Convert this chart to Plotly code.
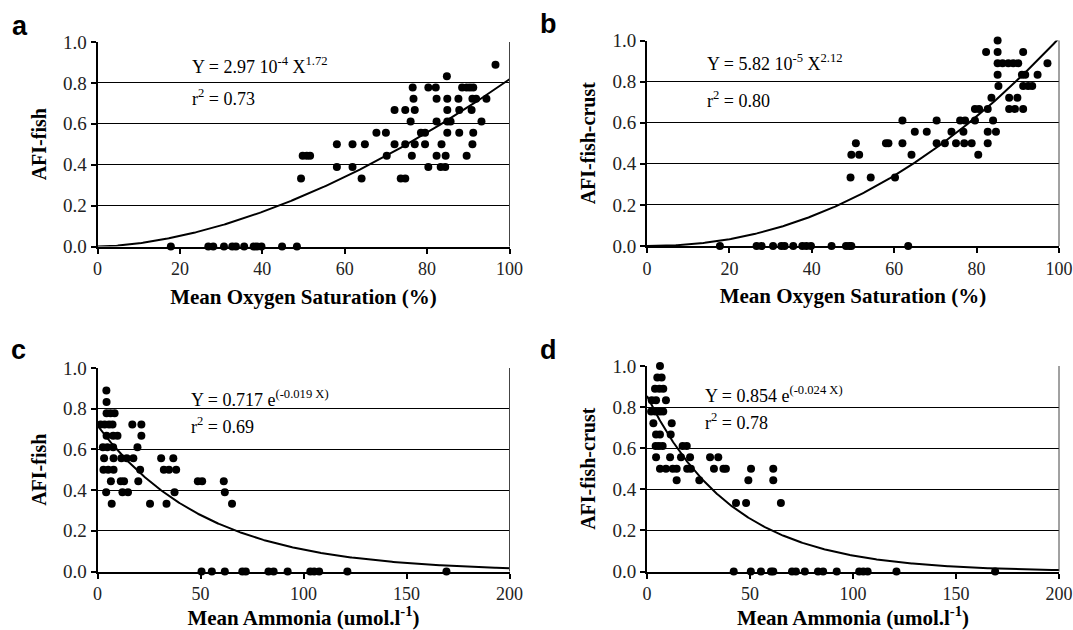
import numpy as np
import plotly.graph_objects as go

# ---------------- data ----------------
# Panel a: AFI-fish vs Mean Oxygen Saturation (%)
a_x = [17.8, 26.9, 28.1, 30.7, 32.7, 33.6, 35.6, 37.9, 38.7, 39.8, 44.8, 48.4,
       49.4, 49.8, 50.8, 51.6, 58.1, 58.1, 61.9, 61.9, 64.1, 64.9, 67.7, 70.0,
       70.2, 72.1, 72.1, 73.6, 74.7, 74.7, 74.7, 76.3, 76.0, 76.5, 76.7, 77.0,
       77.0, 78.5, 79.5, 79.5, 80.3, 80.3, 82.1, 82.3, 82.3, 82.3, 83.5, 83.3,
       84.4, 84.5, 84.8, 84.9, 84.9, 84.9, 85.7, 84.9, 87.6, 87.8, 87.8, 88.5,
       89.6, 90.4, 91.2, 90.8, 91.0, 91.9, 91.2, 91.0, 89.6, 93.2, 94.4, 96.6]
a_y = [0, 0, 0, 0, 0, 0, 0, 0, 0, 0, 0, 0,
       0.333, 0.444, 0.444, 0.444, 0.389, 0.5, 0.389, 0.5, 0.333, 0.5, 0.556, 0.556,
       0.444, 0.5, 0.667, 0.333, 0.333, 0.5, 0.667, 0.444, 0.611, 0.778, 0.722, 0.667,
       0.5, 0.556, 0.556, 0.5, 0.389, 0.778, 0.778, 0.722, 0.611, 0.444, 0.5, 0.389,
       0.389, 0.444, 0.833, 0.722, 0.667, 0.611, 0.611, 0.556, 0.722, 0.667, 0.556, 0.778,
       0.778, 0.778, 0.778, 0.667, 0.722, 0.722, 0.556, 0.5, 0.444, 0.611, 0.722, 0.889]

# Panel b: AFI-fish-crust vs Mean Oxygen Saturation (%)
b_x = [17.7, 26.6, 27.8, 30.6, 32.6, 33.4, 35.5, 37.7, 38.7, 39.8, 44.8, 48.3, 49.1, 49.6, 63.4,
       49.4, 49.6, 51.5, 50.7, 54.3, 58.0, 58.6, 60.2, 62.0, 62.0, 64.2, 65.0, 67.9,
       70.3, 70.3, 72.3, 73.9, 75.0, 76.0, 77.2, 76.8, 77.0, 78.8, 79.6, 79.6, 80.6,
       80.4, 82.3, 82.7, 82.7, 82.7, 83.6, 84.0, 84.7, 85.1, 85.1, 85.1, 85.1, 85.3,
       86.3, 87.7, 88.9, 90.1, 87.9, 89.9, 87.9, 89.3, 91.3, 91.3, 91.0, 91.8, 94.8,
       91.3, 92.5, 93.5, 97.2]
b_y = [0, 0, 0, 0, 0, 0, 0, 0, 0, 0, 0, 0, 0, 0, 0,
       0.333, 0.444, 0.444, 0.5, 0.333, 0.5, 0.5, 0.333, 0.611, 0.5, 0.444, 0.556, 0.556,
       0.611, 0.5, 0.5, 0.556, 0.5, 0.611, 0.611, 0.556, 0.5, 0.5, 0.611, 0.667, 0.667,
       0.444, 0.944, 0.5, 0.556, 0.667, 0.722, 0.611, 0.556, 1.0, 0.944, 0.889, 0.833, 0.778,
       0.889, 0.889, 0.889, 0.889, 0.722, 0.722, 0.667, 0.667, 0.667, 0.944, 0.833, 0.833, 0.833,
       0.778, 0.778, 0.778, 0.889]

# Panel c: AFI-fish vs Mean Ammonia (umol.l-1)
c_x = [50.5, 55.5, 61.8, 70.3, 72.0, 83.0, 85.5, 92.3, 103.3, 105.2, 107.6, 121.3, 169.4,
       4.3, 4.4, 4.4, 6.3, 8.3, 1.5, 3.5, 5.6, 7.3, 16.9, 21.3,
       4.4, 7.6, 9.7, 21.3, 2.6, 4.8, 7.6, 19.4,
       3.2, 7.8, 11.6, 14.2, 17.4, 30.9, 36.8,
       2.9, 5.2, 7.8, 20.7, 32.2, 34.7, 38.2,
       6.5, 11.3, 12.9, 19.8, 48.7, 50.8, 61.3,
       4.2, 12.1, 14.8, 37.4, 61.8,
       6.9, 25.5, 33.5, 65.3]
c_y = [0, 0, 0, 0, 0, 0, 0, 0, 0, 0, 0, 0, 0,
       0.889, 0.833, 0.778, 0.778, 0.778, 0.722, 0.722, 0.722, 0.722, 0.722, 0.722,
       0.667, 0.667, 0.667, 0.667, 0.611, 0.611, 0.611, 0.611,
       0.556, 0.556, 0.556, 0.556, 0.556, 0.556, 0.556,
       0.5, 0.5, 0.5, 0.5, 0.5, 0.5, 0.5,
       0.444, 0.444, 0.444, 0.444, 0.444, 0.444, 0.444,
       0.389, 0.389, 0.389, 0.389, 0.389,
       0.333, 0.333, 0.333, 0.333]

# Panel d: AFI-fish-crust vs Mean Ammonia (umol.l-1)
d_x = [42.1, 50.4, 55.3, 60.2, 61.3, 70.4, 72.3, 76.6, 83.0, 85.5, 92.1, 103.0, 105.0, 107.1, 121.1, 169.0,
       6.3, 5.0, 7.1, 3.9, 6.0, 7.9, 2.3, 4.4, 9.2,
       2.0, 4.0, 6.3, 7.9, 3.1, 12.0, 4.4, 6.3, 11.5,
       4.2, 5.8, 7.6, 17.3, 19.3,
       4.4, 11.2, 16.5, 20.9, 30.6, 34.6,
       6.3, 9.2, 12.5, 14.4, 19.5, 21.3, 32.5, 37.1, 38.3, 50.5, 61.3,
       14.4, 25.4, 49.2, 61.3,
       43.2, 48.1, 65.0]
d_y = [0, 0, 0, 0, 0, 0, 0, 0, 0, 0, 0, 0, 0, 0, 0, 0,
       1.0, 0.944, 0.944, 0.889, 0.889, 0.889, 0.833, 0.833, 0.833,
       0.778, 0.778, 0.778, 0.778, 0.722, 0.722, 0.667, 0.667, 0.667,
       0.611, 0.611, 0.611, 0.611, 0.611,
       0.556, 0.556, 0.556, 0.556, 0.556, 0.556,
       0.5, 0.5, 0.5, 0.5, 0.5, 0.5, 0.5, 0.5, 0.5, 0.5, 0.5,
       0.444, 0.444, 0.444, 0.444,
       0.333, 0.333, 0.333]

# fitted models shown on the chart
a_fit = (2.97e-4, 1.72)      # Y = a X^b
b_fit = (5.82e-5, 2.12)
c_fit = (0.717, -0.019)      # Y = a e^(b X)
d_fit = (0.854, -0.024)

panel_letters = ["a", "b", "c", "d"]
eq_texts = ["Y = 2.97 10<sup>-4</sup> X<sup>1.72</sup>",
            "Y = 5.82 10<sup>-5</sup> X<sup>2.12</sup>",
            "Y = 0.717 e<sup>(-0.019 X)</sup>",
            "Y = 0.854 e<sup>(-0.024 X)</sup>"]
r2_texts = ["r<sup>2</sup> = 0.73", "r<sup>2</sup> = 0.80",
            "r<sup>2</sup> = 0.69", "r<sup>2</sup> = 0.78"]
x_titles = ["Mean Oxygen Saturation (%)", "Mean Oxygen Saturation (%)",
            "Mean Ammonia (umol.l<sup>-1</sup>)", "Mean Ammonia (umol.l<sup>-1</sup>)"]
y_titles = ["AFI-fish", "AFI-fish-crust", "AFI-fish", "AFI-fish-crust"]

# ---------------- figure ----------------
W, H = 1073, 630
SERIF = "Times New Roman, Liberation Serif, DejaVu Serif, serif"
SANS = "Arial, Liberation Sans, DejaVu Sans, sans-serif"

fig = go.Figure()

xs_o = np.linspace(0, 100, 301)
xs_a = np.linspace(0, 200, 401)
curves = [
    (xs_o, a_fit[0] * xs_o ** a_fit[1]),
    (xs_o, b_fit[0] * xs_o ** b_fit[1]),
    (xs_a, c_fit[0] * np.exp(c_fit[1] * xs_a)),
    (xs_a, d_fit[0] * np.exp(d_fit[1] * xs_a)),
]
points = [(a_x, a_y), (b_x, b_y), (c_x, c_y), (d_x, d_y)]

# pixel layout of the plot areas
x_dom_px = [(97.5, 509.5), (647, 1059), (97.5, 509.5), (647, 1059)]
y_dom_px = [(42, 246.5), (40.5, 246), (368, 571.5), (366, 571.5)]
x_ranges = [[0, 100], [0, 100], [0, 200], [0, 200]]
x_dticks = [20, 20, 50, 50]
eq_pos = [(22.4, 0.885, 0.73), (14.1, 0.895, 0.715), (44.6, 0.848, 0.716), (27.3, 0.862, 0.73)]
letter_pos = [(20, 26), (548, 24), (18, 350), (548, 350)]

layout = {}
annotations = []
shapes = []
for i in range(4):
    n = "" if i == 0 else str(i + 1)
    xa, ya = "x" + n, "y" + n
    fig.add_trace(go.Scatter(x=curves[i][0], y=curves[i][1], mode="lines",
                             line=dict(color="black", width=2),
                             xaxis=xa, yaxis=ya, showlegend=False, hoverinfo="skip"))
    fig.add_trace(go.Scatter(x=points[i][0], y=points[i][1], mode="markers",
                             marker=dict(color="black", size=8, symbol="circle"),
                             cliponaxis=False,
                             xaxis=xa, yaxis=ya, showlegend=False))
    x0, x1 = x_dom_px[i]
    yt, yb = y_dom_px[i]
    layout["xaxis" + n] = dict(
        domain=[x0 / W, x1 / W], anchor=ya, range=x_ranges[i], dtick=x_dticks[i],
        automargin=False,
        showline=True, linecolor="black", linewidth=2, ticks="outside",
        ticklen=5, tickwidth=1.5, tickcolor="black", showgrid=False, zeroline=False,
        tickfont=dict(family=SERIF, size=18, color="#222"),
        title=dict(text="<b>" + x_titles[i] + "</b>", standoff=11,
                   font=dict(family=SERIF, size=21, color="black")),
    )
    layout["yaxis" + n] = dict(
        domain=[1 - yb / H, 1 - yt / H], anchor=xa, range=[0, 1], dtick=0.2,
        tickformat=".1f", automargin=False,
        showline=True, linecolor="black", linewidth=2, ticks="outside",
        ticklen=5, tickwidth=1.5, tickcolor="black",
        showgrid=True, gridcolor="black", gridwidth=1, zeroline=False,
        tickfont=dict(family=SERIF, size=19, color="#222"),
        title=dict(text="<b>" + y_titles[i] + "</b>", standoff=11,
                   font=dict(family=SERIF, size=20, color="black")),
    )
    ex, ey1, ey2 = eq_pos[i]
    annotations.append(dict(x=ex, y=ey1, xref=xa, yref=ya, text=eq_texts[i],
                            showarrow=False, xanchor="left", yanchor="middle",
                            font=dict(family=SERIF, size=18, color="black")))
    annotations.append(dict(x=ex, y=ey2, xref=xa, yref=ya, text=r2_texts[i],
                            showarrow=False, xanchor="left", yanchor="middle",
                            font=dict(family=SERIF, size=18, color="black")))
    lx, ly = letter_pos[i]
    annotations.append(dict(x=lx / W, y=1 - ly / H, xref="paper", yref="paper",
                            text="<b>" + panel_letters[i] + "</b>", showarrow=False,
                            xanchor="center", yanchor="middle",
                            font=dict(family=SANS, size=27, color="black")))
    shapes.append(dict(type="line", xref=xa + " domain", yref=ya + " domain",
                       x0=1, x1=1, y0=0, y1=1, line=dict(color="#444", width=1)))

fig.update_layout(
    width=W, height=H, margin=dict(l=0, r=0, t=0, b=0, autoexpand=False),
    paper_bgcolor="white", plot_bgcolor="white",
    font=dict(family=SERIF),
    annotations=annotations, shapes=shapes, showlegend=False,
    **layout,
)

fig.write_html("out.html", config={"displayModeBar": False},
               post_script="document.body.style.margin='0';document.body.style.padding='0';")
